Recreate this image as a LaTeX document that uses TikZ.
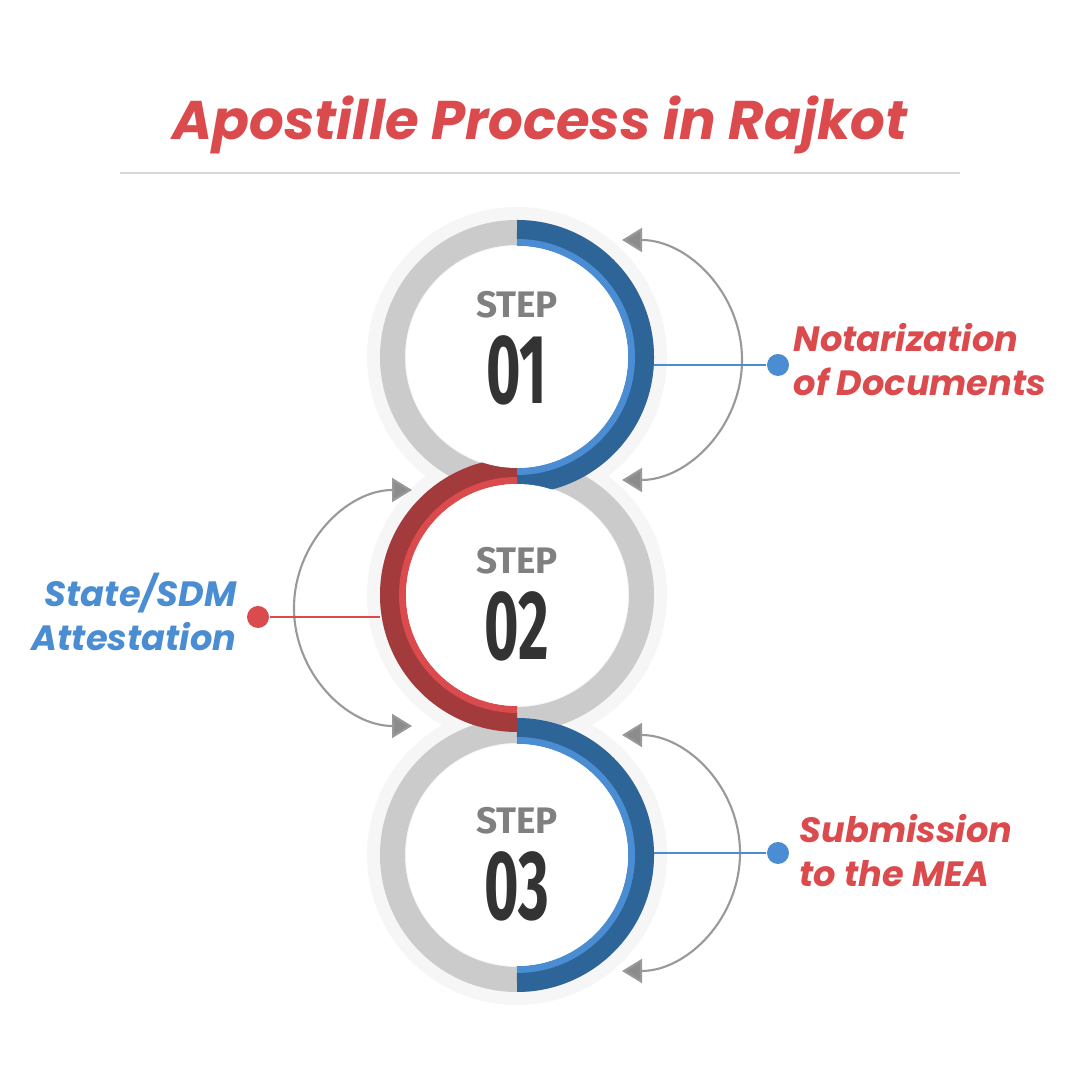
\documentclass[tikz,border=0pt]{standalone}
\usepackage{fontspec}
\setmainfont{Poppins}
\newfontfamily\numfont{Fira Sans}
\usetikzlibrary{arrows.meta,positioning}
\definecolor{darkblue}{HTML}{2E6599}
\definecolor{lightblue}{HTML}{4A8DD3}
\definecolor{darkred}{HTML}{A33A3C}
\definecolor{lightred}{HTML}{DB4A4D}
\definecolor{ringgray}{HTML}{CBCBCB}
\definecolor{numgray}{HTML}{333333}
\tikzset{
    stepword/.style = {font=\numfont\fontsize{10.5}{12}\selectfont\bfseries, text=gray},
    stepnum/.style = {font=\numfont\fontsize{28}{30}\selectfont\bfseries, text=numgray, xscale=0.6},
    label/.style = {font=\fontsize{10}{12.5}\selectfont\bfseries\itshape, align=left, inner sep=0pt},
    dot/.style = {circle, fill=#1, minimum size=0.22cm, inner sep=0pt},
    loop/.style = {gray!80, line width=0.6pt, {Triangle[length=0.2cm,width=0.24cm,fill=gray!90]}-{Triangle[length=0.2cm,width=0.24cm,fill=gray!90]}}
}
\begin{document}
\begin{tikzpicture}
    \useasboundingbox (0,0) rectangle (10.8,10.8);
    % title
    \node[font=\fontsize{15.5}{18}\selectfont\bfseries\itshape, text=lightred] (title) at (5.4,9.55) {Apostille Process in Rajkot};
    \draw[gray!30, line width=0.8pt] (1.2,9.07) -- (9.6,9.07);
    \coordinate (c1) at (5.17,7.23);
    \coordinate (c2) at (5.17,4.85);
    \coordinate (c3) at (5.17,2.25);
    % soft glow and grey rings
    \foreach \c in {c1,c2,c3}
        \fill[gray!7] (\c) circle (1.5cm);
    \foreach \c in {c1,c2,c3}
        \draw[ringgray, line width=0.25cm] (\c) circle (1.245cm);
    % coloured half rings
    \foreach \c in {c1,c3} {
        \draw[darkblue, line width=0.2cm] ([shift={(90:1.27cm)}]\c) arc (90:-90:1.27cm);
        \draw[lightblue, line width=0.07cm] ([shift={(90:1.145cm)}]\c) arc (90:-90:1.145cm);
    }
    \draw[darkred, line width=0.2cm] ([shift={(90:1.27cm)}]c2) arc (90:270:1.27cm);
    \draw[lightred, line width=0.07cm] ([shift={(90:1.145cm)}]c2) arc (90:270:1.145cm);
    % inner discs
    \foreach \c in {c1,c2,c3}
        \fill[white] (\c) circle (1.11cm);
    % step numbers
    \node[stepword] (s1) at ([yshift=0.52cm]c1) {STEP};
    \node[stepnum, below=-0.08cm of s1] (n1) {01};
    \node[stepword] (s2) at ([yshift=0.34cm]c2) {STEP};
    \node[stepnum, below=-0.08cm of s2] (n2) {02};
    \node[stepword] (s3) at ([yshift=0.34cm]c3) {STEP};
    \node[stepnum, below=-0.08cm of s3] (n3) {03};
    % loop arrows
    \draw[loop] (6.22,8.40) arc (90:-90:1.2cm);
    \draw[loop] (4.12,5.90) arc (90:270:1.18cm);
    \draw[loop] (6.22,3.45) arc (90:-90:1.18cm);
    % labels
    \node[dot=lightblue] (d1) at (7.78,7.15) {};
    \draw[lightblue, line width=0.8pt] ([xshift=1.37cm]c1 |- d1) -- (d1);
    \node[label, text=lightred, anchor=west] (t1) at (7.93,7.2) {Notarization\\of Documents};
    \node[dot=lightred] (d2) at (2.58,4.63) {};
    \draw[lightred, line width=0.8pt] ([xshift=-1.37cm]c2 |- d2) -- (d2);
    \node[label, text=lightblue, anchor=east, align=right] (t2) at (2.37,4.68) {State/SDM\\Attestation};
    \node[dot=lightblue] (d3) at (7.78,2.27) {};
    \draw[lightblue, line width=0.8pt] ([xshift=1.37cm]c3 |- d3) -- (d3);
    \node[label, text=lightred, anchor=west] (t3) at (7.99,2.29) {Submission\\to the MEA};
\end{tikzpicture}
\end{document}
